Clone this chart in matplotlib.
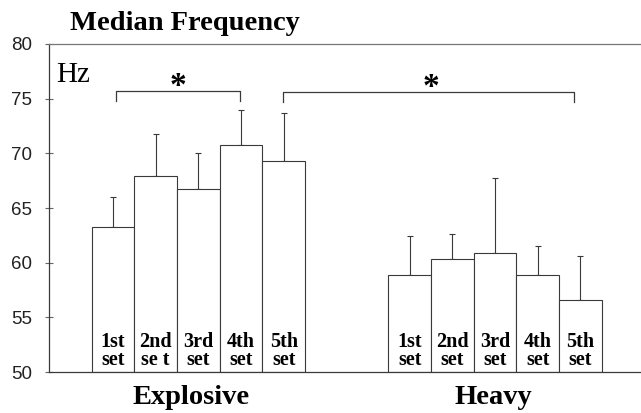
import matplotlib.pyplot as plt
import numpy as np

# Median frequency (Hz), mean and upper SD per set
sets = ['1st', '2nd', '3rd', '4th', '5th']
explosive_labels = ['1st\nset', '2nd\nse t', '3rd\nset', '4th\nset', '5th\nset']
heavy_labels = ['1st\nset', '2nd\nset', '3rd\nset', '4th\nset', '5th\nset']
explosive_mean = [63.3, 67.9, 66.7, 70.8, 69.3]
explosive_sd = [2.7, 3.9, 3.3, 3.2, 4.4]
heavy_mean = [58.9, 60.3, 60.9, 58.9, 56.6]
heavy_sd = [3.5, 2.3, 6.8, 2.6, 4.0]
yticks = [50, 55, 60, 65, 70, 75, 80]

serif = 'Liberation Serif'
sans = 'Liberation Sans'
line_c = '#3a3a3a'

fig = plt.figure(figsize=(6.41, 4.13), dpi=100)
ax = fig.add_axes([49 / 641, 41 / 413, 592 / 641, 328 / 413])

x_exp = np.arange(len(sets)) + 1.5
x_hvy = np.arange(len(sets)) + 8.45

for xs, means, sds, labels in [(x_exp, explosive_mean, explosive_sd, explosive_labels),
                               (x_hvy, heavy_mean, heavy_sd, heavy_labels)]:
    ax.bar(xs, np.array(means) - 50, bottom=50, width=1.0, color='white',
           edgecolor=line_c, linewidth=0.8, zorder=2)
    ax.errorbar(xs, means, yerr=[np.zeros(len(sds)), sds], fmt='none',
                ecolor=line_c, elinewidth=0.8, capsize=2.5, capthick=0.8, zorder=1)
    for xi, lab in zip(xs, labels):
        ax.text(xi, 50.15, lab, ha='center', va='bottom', family=serif,
                fontweight='bold', fontsize=14.5, linespacing=0.88, zorder=3)

# significance brackets
def bracket(x0, x1, y, drop):
    ax.plot([x0, x0, x1, x1], [y - drop, y, y, y - drop], color=line_c,
            linewidth=0.9, clip_on=False)

bracket(1.56, 4.47, 75.7, 0.9)
bracket(5.49, 12.3, 75.6, 0.9)
ax.text(3.02, 76.1, '*', ha='center', va='center', family=serif,
        fontweight='bold', fontsize=24)
ax.text(8.95, 76.0, '*', ha='center', va='center', family=serif,
        fontweight='bold', fontsize=24)

ax.text(0.18, 77.2, 'Hz', ha='left', va='center', family=serif, fontsize=21)

ax.set_xlim(0, 13.87)
ax.set_ylim(50, 80)
ax.set_yticks(yticks)
ax.set_xticks([])
ax.tick_params(axis='y', direction='inout', length=6, width=0.8,
               color='#666666', pad=9, labelsize=13.5, labelcolor='#222222')
for lab in ax.get_yticklabels():
    lab.set_family(sans)

ax.spines['right'].set_visible(False)
ax.spines['top'].set_color('#777777')
ax.spines['left'].set_color(line_c)
ax.spines['bottom'].set_color(line_c)
for s in ax.spines.values():
    s.set_linewidth(0.9)

fig.text(185 / 641, 1 - 24 / 413, 'Median Frequency', ha='center', va='center',
         family=serif, fontweight='bold', fontsize=20.5)
fig.text(191 / 641, 1 - 398 / 413, 'Explosive', ha='center', va='center',
         family=serif, fontweight='bold', fontsize=20.5)
fig.text(493 / 641, 1 - 398 / 413, 'Heavy', ha='center', va='center',
         family=serif, fontweight='bold', fontsize=20.5)

plt.savefig('out.png', dpi=100)
